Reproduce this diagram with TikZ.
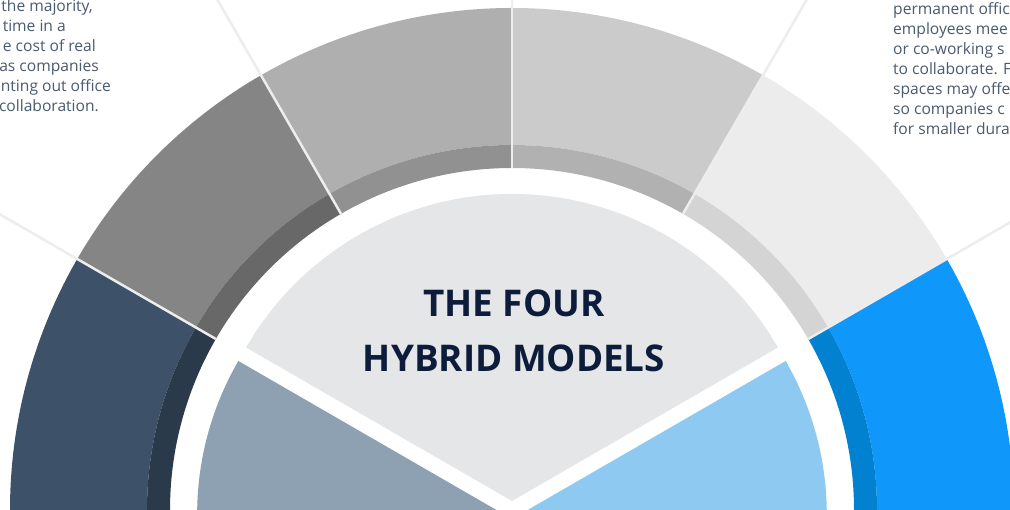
\documentclass[tikz,border=0pt]{standalone}
\usepackage{fontspec}
\setmainfont{Open Sans}
\definecolor{segA}{HTML}{3D5168}
\definecolor{segAd}{HTML}{2A3A4B}
\definecolor{segB}{HTML}{858585}
\definecolor{segBd}{HTML}{686868}
\definecolor{segC}{HTML}{AFAFAF}
\definecolor{segCd}{HTML}{919191}
\definecolor{segD}{HTML}{CBCBCB}
\definecolor{segDd}{HTML}{B1B1B1}
\definecolor{segE}{HTML}{ECECEC}
\definecolor{segEd}{HTML}{D4D4D4}
\definecolor{segF}{HTML}{0F97FA}
\definecolor{segFd}{HTML}{0281D1}
\definecolor{pieTop}{HTML}{E5E6E8}
\definecolor{pieLeft}{HTML}{8EA1B3}
\definecolor{pieRight}{HTML}{8DC9F1}
\definecolor{divcol}{HTML}{EDEDED}
\definecolor{bodycol}{HTML}{4A5A6F}
\definecolor{titlecol}{HTML}{0C1C3A}
\newcommand\ringseg[5]{\fill[#5] (#1:#3) arc[start angle=#1,end angle=#2,radius=#3] -- (#2:#4) arc[start angle=#2,end angle=#1,radius=#4] -- cycle;}
\newcommand\pieslice[4]{\fill[#4] (0,0) -- (#1:#3) arc[start angle=#1,end angle=#2,radius=#3] -- cycle;}
\begin{document}
\begin{tikzpicture}[x=1pt,y=1pt,
  divider/.style={draw=divcol, line width=2.5pt},
  bodytext/.style={font=\fontsize{15.6}{20}\selectfont, text=bodycol, inner sep=0pt},
  titletext/.style={font=\fontsize{36.8}{44}\selectfont\bfseries, text=titlecol, inner sep=0pt}]
\useasboundingbox (0,0) rectangle (1010,510);
\fill[white] (0,0) rectangle (1010,510);
\begin{scope}[shift={(512,0)}]
  % outer ring
  \ringseg{150}{200}{365}{502}{segA}
  \ringseg{150}{200}{342}{365}{segAd}
  \ringseg{120}{150}{365}{502}{segB}
  \ringseg{120}{150}{342}{365}{segBd}
  \ringseg{90}{120}{365}{502}{segC}
  \ringseg{90}{120}{342}{365}{segCd}
  \ringseg{60}{90}{365}{502}{segD}
  \ringseg{60}{90}{342}{365}{segDd}
  \ringseg{30}{60}{365}{502}{segE}
  \ringseg{30}{60}{342}{365}{segEd}
  \ringseg{-20}{30}{365}{502}{segF}
  \ringseg{-20}{30}{342}{365}{segFd}
  % dividers
  \foreach \a in {30,60,90,120,150}{\draw[divider] (\a:342) -- (\a:800);}
  % pie slices
  \begin{scope}[shift={(90:9)}]\pieslice{30}{150}{307}{pieTop}\end{scope}
  \begin{scope}[shift={(210:9)}]\pieslice{150}{270}{307}{pieLeft}\end{scope}
  \begin{scope}[shift={(330:9)}]\pieslice{270}{390}{307}{pieRight}\end{scope}
\end{scope}
% title
\node[titletext, anchor=base] (t1) at (514,193) {THE FOUR};
\node[titletext, anchor=base] (t2) at (514,138) {HYBRID MODELS};
% left text (clipped column)
\node[bodytext, anchor=base east] (l1) at (93,498) {the majority,};
\node[bodytext, anchor=base east] (l2) at (66,478) {time in a};
\node[bodytext, anchor=base east] (l3) at (96,458) {e cost of real};
\node[bodytext, anchor=base east] (l4) at (99,438) {as companies};
\node[bodytext, anchor=base east] (l5) at (111,418) {nting out office};
\node[bodytext, anchor=base east] (l6) at (99,398) {collaboration.};
% right text (clipped column)
\node[bodytext, anchor=base west] (r1) at (893,495) {permanent offic};
\node[bodytext, anchor=base west] (r2) at (893,475) {employees mee};
\node[bodytext, anchor=base west] (r3) at (893,455) {or co-working s};
\node[bodytext, anchor=base west] (r4) at (893,435) {to collaborate. F};
\node[bodytext, anchor=base west] (r5) at (893,415) {spaces may offe};
\node[bodytext, anchor=base west] (r6) at (893,395) {so companies c};
\node[bodytext, anchor=base west] (r7) at (893,375) {for smaller dura};
\end{tikzpicture}
\end{document}
